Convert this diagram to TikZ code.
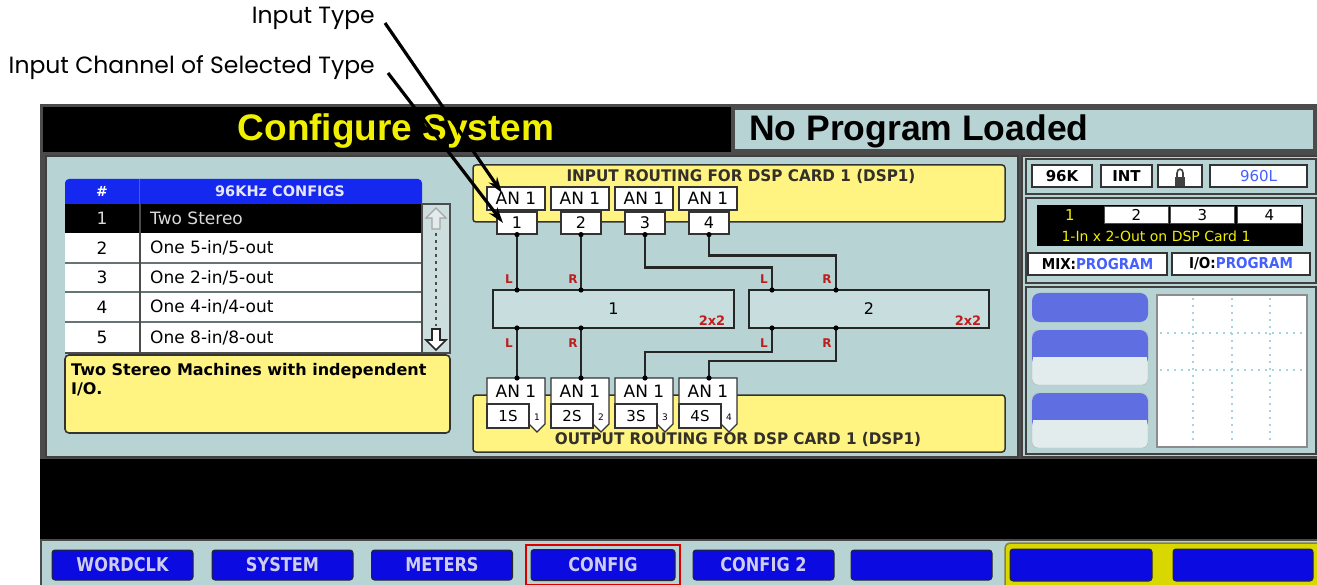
\documentclass[tikz,border=0pt]{standalone}
\usepackage{fontspec}
\usepackage{graphicx}
\setmainfont{DejaVu Sans}
\newfontfamily\helfont{Liberation Sans}
\newfontfamily\labfont{Poppins}
\usetikzlibrary{arrows.meta,calc}
\newcommand{\fsz}[1]{\fontsize{#1}{#1}\selectfont}
\newcommand{\cnd}[2][0.85]{\scalebox{#1}[1]{#2}}
\definecolor{scr}{RGB}{183,211,212}
\definecolor{ylw}{RGB}{255,244,130}
\definecolor{btnblue}{RGB}{10,10,225}
\definecolor{hdrblue}{RGB}{20,40,240}
\definecolor{pill}{RGB}{95,110,225}
\definecolor{redl}{RGB}{190,30,30}
\definecolor{frame}{RGB}{75,75,75}
\definecolor{ttlyel}{RGB}{240,240,0}
\definecolor{lblue}{RGB}{70,95,255}
\definecolor{dotc}{RGB}{165,212,222}
\definecolor{btntxt}{RGB}{205,205,235}
\definecolor{scrollc}{RGB}{205,222,222}
\definecolor{blkfill}{RGB}{200,222,222}
\definecolor{lite}{RGB}{226,236,236}
\begin{document}
\begin{tikzpicture}[x=1pt,y=-1pt,
  lab/.style={font=\labfont\fsz{23.5}, inner sep=0pt},
  callout/.style={line width=3.2pt, draw=black, -{Stealth[length=16pt,width=10pt]}},
  tagan/.style={draw=black!80, line width=1.2pt, fill=white, minimum width=58pt, minimum height=23pt, inner sep=0pt, font=\fsz{17}},
  tagnum/.style={draw=black!80, line width=1.2pt, fill=white, minimum width=40pt, minimum height=22pt, inner sep=0pt, font=\fsz{16}},
  wire/.style={line width=2.8pt, draw=black!85},
  lr/.style={text=redl, font=\bfseries\fsz{12}, inner sep=0pt},
  twox/.style={text=redl, font=\bfseries\fsz{13}, inner sep=0pt},
  blk/.style={draw=black!85, line width=1.5pt, fill=blkfill, minimum height=38pt, inner sep=0pt, font=\fsz{16}},
  btn/.style={draw=black!85, line width=1pt, fill=btnblue, rounded corners=3pt, minimum width=141pt, minimum height=30pt, inner sep=0pt, text=btntxt, font=\bfseries\fsz{19}},
  stbtn/.style={draw=black!80, line width=1.2pt, fill=white, minimum height=22pt, inner sep=0pt, font=\bfseries\fsz{15}},
  row/.style={font=\fsz{17}, inner sep=0pt},
  ttlrt/.style={font=\bfseries\fsz{16}, text=black!85!olive, inner sep=0pt},
  dsp/.style={draw=black!70, line width=0.8pt, fill=white, minimum width=64pt, minimum height=17pt, inner sep=0pt, font=\fsz{15}},
  dotline/.style={draw=dotc, line width=1.2pt, dash pattern=on 2pt off 5pt}
]
\useasboundingbox (0,0) rectangle (1317,585);
\fill[white] (0,0) rectangle (1317,585);

% ---- screen frame
\fill[frame] (40,104) rectangle (1317,585);
\fill[black] (43,107) rectangle (731,152);
\filldraw[fill=scr, draw=black!70, line width=1.5pt] (734,109) rectangle (1314,150);
\node[font=\helfont\bfseries\fsz{37}, text=ttlyel, inner sep=0pt] (ttl) at (396,131) {Configure System};
\node[font=\helfont\bfseries\fsz{35.5}, anchor=west, inner sep=0pt] (npl) at (749,131) {No Program Loaded};

% main panels
\filldraw[fill=scr, draw=black!75, line width=1.5pt] (46,156) rectangle (1018,457);
\filldraw[fill=scr, draw=black!75, line width=1.5pt] (1022,156) rectangle (1320,457);
\draw[black!75, line width=2pt] (1026,159) rectangle (1316,194);
\draw[black!75, line width=2pt] (1026,198) rectangle (1316,283);
\draw[black!75, line width=2pt] (1026,287) rectangle (1316,454);

% black band and bottom bar
\fill[black] (40,459) rectangle (1317,539);
\fill[scr] (42,541) rectangle (1317,585);

% ---- config table
\fill[hdrblue, rounded corners=4pt] (65,179) rectangle (422,206);
\fill[hdrblue] (65,196) rectangle (422,204);
\draw[black!60, line width=1.5pt] (139.5,179) -- (139.5,204);
\node[font=\bfseries\fsz{14}, text=white, inner sep=0pt] (hnum) at (102,191.5) {\#};
\node[font=\bfseries\fsz{14.5}, text=white!90!blue, inner sep=0pt] (hcfg) at (280,191.5) {96KHz CONFIGS};
\fill[black] (65,204) rectangle (422,233);
\fill[white] (65,233) rectangle (422,353);
\foreach \yy in {263,292,322} \draw[black!45!scr, line width=1.5pt] (65,\yy) -- (422,\yy);
\draw[black!70, line width=1.5pt] (140,204) -- (140,353);
\draw[black!70, line width=1.2pt] (65,353) -- (422,353);
\node[row, text=white!85!black] (n1) at (102,218) {1};
\node[row] (n2) at (102,248) {2};
\node[row] (n3) at (102,277.5) {3};
\node[row] (n4) at (102,307) {4};
\node[row] (n5) at (102,337.5) {5};
\node[row, text=white!85!black, anchor=west] (t1) at (150,218) {Two Stereo};
\node[row, anchor=west] (t2) at (150,248) {One 5-in/5-out};
\node[row, anchor=west] (t3) at (150,277.5) {One 2-in/5-out};
\node[row, anchor=west] (t4) at (150,307) {One 4-in/4-out};
\node[row, anchor=west] (t5) at (150,337.5) {One 8-in/8-out};
% scrollbar
\filldraw[fill=scrollc, draw=black!70, line width=1.2pt] (422,204) rectangle (450,353);
\filldraw[fill=lite, draw=black!35, line width=1.2pt] (436,208) -- (446,218) -- (440,218) -- (440,229) -- (432,229) -- (432,218) -- (426,218) -- cycle;
\draw[black!70, line width=2pt, dash pattern=on 3pt off 4pt] (436,233) -- (436,326);
\filldraw[fill=white, draw=black!85, line width=1.6pt] (436,350) -- (446,340) -- (440,340) -- (440,329) -- (432,329) -- (432,340) -- (426,340) -- cycle;
% description
\filldraw[fill=ylw, draw=black!80, line width=1.6pt, rounded corners=4pt] (65,355) rectangle (450,433);
\node[font=\bfseries\fsz{16}, anchor=north west, align=left, inner sep=0pt] (desc) at (71,363) {Two Stereo Machines with independent\\[3pt]I/O.};

% ---- input routing
\filldraw[fill=ylw, draw=black!80, line width=1.5pt, rounded corners=3pt] (473,165) rectangle (1005,222);
\node[ttlrt] (inttl) at (741,176) {\cnd[0.95]{INPUT ROUTING FOR DSP CARD 1 (DSP1)}};
\foreach \i in {1,2,3,4} {
  \node[tagan] (ia\i) at ({452+64*\i},198.5) {AN 1};
  \node[tagnum] (in\i) at ({453+64*\i},223) {\i};
}
% ---- output routing box
\filldraw[fill=ylw, draw=black!80, line width=1.5pt, rounded corners=3pt] (473,395) rectangle (1005,452);
\node[ttlrt] (outttl) at (738,439) {\cnd[0.95]{OUTPUT ROUTING FOR DSP CARD 1 (DSP1)}};

% blocks
\node[blk, minimum width=241pt] (blk1) at (613.5,309) {1};
\node[blk, minimum width=240pt] (blk2) at (869,309) {2};
\node[twox] (x1) at (712,321) {2x2};
\node[twox] (x2) at (968,321) {2x2};

% block connection points
\coordinate (b1L) at (517,290); \coordinate (b1R) at (581,290);
\coordinate (b2L) at (772,290); \coordinate (b2R) at (836,290);
\coordinate (c1L) at (517,328); \coordinate (c1R) at (581,328);
\coordinate (c2L) at (772,328); \coordinate (c2R) at (836,328);

% output tags
\foreach \i in {1,2,3,4} {
  \pgfmathsetmacro{\xo}{423+64*\i}
  \filldraw[fill=white, draw=black!80, line width=1.2pt]
    (\xo,378) -- ({\xo+58},378) -- ({\xo+58},424) -- ({\xo+50},432) -- ({\xo+42},424) -- ({\xo+42},404) -- (\xo,404) -- cycle;
  \filldraw[fill=white, draw=black!80, line width=1.2pt] (\xo,404) rectangle ({\xo+42},428);
  \node[font=\fsz{17}, inner sep=0pt] (oa\i) at ({\xo+29},391) {AN 1};
  \node[font=\fsz{15}, inner sep=0pt] (os\i) at ({\xo+21},416.5) {\i S};
  \node[font=\fsz{9}, inner sep=0pt] (ok\i) at ({\xo+50},417) {\i};
  \coordinate (o\i) at ({\xo+30},378);
}

% wires
\draw[wire] (in1.south) -- (b1L);
\draw[wire] (in2.south) -- (b1R);
\draw[wire] (in3.south) -- ++(0,33) -| (b2L);
\draw[wire] (in4.south) -- ++(0,21) -| (b2R);
\draw[wire] (c1L) -- (o1);
\draw[wire] (c1R) -- (o2);
\draw[wire] (c2L) -- ++(0,24) -| (o3);
\draw[wire] (c2R) -- ++(0,33) -| (o4);
\foreach \p in {b1L,b1R,b2L,b2R,c1L,c1R,c2L,c2R,o1,o2,o3,o4} \fill[black] (\p) circle (2.6);
\foreach \i in {1,2,3,4} \fill[black] (in\i.south) circle (2.6);

\node[lr] (l1) at (509,279) {L};
\node[lr] (r1) at (573,279) {R};
\node[lr] (l2) at (764,279) {L};
\node[lr] (r2) at (827,279) {R};
\node[lr] (l3) at (509,343) {L};
\node[lr] (r3) at (573,343) {R};
\node[lr] (l4) at (764,343) {L};
\node[lr] (r4) at (827,343) {R};

% ---- right panel: status
\node[stbtn, minimum width=60pt] (s96) at (1062,176) {96K};
\node[stbtn, minimum width=51pt] (sint) at (1126.5,176) {INT};
\node[stbtn, minimum width=44pt] (slock) at (1180,176) {};
\fill[black!75] (1175,177) rectangle (1185,186);
\draw[black!75, line width=1.6pt] (1177,177) -- (1177,173) .. controls (1177,168) and (1183,168) .. (1183,173) -- (1183,177);
\node[stbtn, minimum width=97pt, font=\fsz{15}, text=lblue] (s960) at (1258.5,176) {960L};

% DSP selector
\fill[black] (1037,205) rectangle (1303,246);
\node[dsp, fill=black, draw=black, text=ttlyel] (d1) at (1070,215) {1};
\node[dsp] (d2) at (1136.5,215) {2};
\node[dsp] (d3) at (1202.5,215) {3};
\node[dsp] (d4) at (1269.5,215) {4};
\node[font=\fsz{14}, text=ttlyel, inner sep=0pt] (dtxt) at (1156,236) {1-In x 2-Out on DSP Card 1};
\node[stbtn, minimum width=139pt] (mix) at (1097.5,264) {\cnd[0.9]{MIX:\textcolor{lblue}{PROGRAM}}};
\node[stbtn, minimum width=138pt] (io) at (1241,264) {\cnd[0.9]{I/O:\textcolor{lblue}{PROGRAM}}};

% meters
\fill[pill, rounded corners=8pt] (1032,293) rectangle (1148,322);
\filldraw[fill=lite, draw=black!30, rounded corners=6pt] (1032,330) rectangle (1148,385);
\fill[pill, rounded corners=8pt] (1032,330) rectangle (1148,366);
\fill[lite] (1033,357) rectangle (1147,377);
\filldraw[fill=lite, draw=black!30, rounded corners=6pt] (1032,393) rectangle (1148,448);
\fill[pill, rounded corners=8pt] (1032,393) rectangle (1148,429);
\fill[lite] (1033,420) rectangle (1147,440);
\filldraw[fill=white, draw=black!45, line width=1.2pt] (1157,295) rectangle (1307,447);
\foreach \xx in {1193,1232,1270} \draw[dotline] (\xx,298) -- (\xx,445);
\foreach \yy in {333,370} \draw[dotline] (1160,\yy) -- (1305,\yy);

% ---- bottom buttons
\node[btn] (bword) at (122.5,565) {\cnd{WORDCLK}};
\node[btn] (bsys) at (282.5,565) {\cnd{SYSTEM}};
\node[btn] (bmet) at (442,565) {\cnd{METERS}};
\draw[red!85!black, line width=2.5pt] (526,545) rectangle (680,585);
\node[btn, minimum width=144pt, minimum height=31pt] (bcfg) at (603,565) {\cnd{CONFIG}};
\node[btn] (bcfg2) at (763.5,565) {\cnd{CONFIG 2}};
\node[btn] (bblank) at (921.5,565) {};
\filldraw[fill=ttlyel!90!black, draw=black!55!yellow, line width=1.5pt, rounded corners=5pt] (1005,543) rectangle (1322,592);
\node[btn, minimum width=142pt, minimum height=32pt] (bg1) at (1081,565) {};
\node[btn, minimum width=140pt, minimum height=32pt] (bg2) at (1243,565) {};

% ---- callouts
\node[lab, anchor=east] (labA) at (375,18) {Input Type};
\node[lab, anchor=east] (labB) at (375,68) {Input Channel of Selected Type};
\coordinate (a1s) at (385,23);
\coordinate (a1e) at (502,193);
\coordinate (a2s) at (388,73);
\coordinate (a2e) at (503,223);
\draw[callout] (a1s) -- (a1e);
\draw[callout] (a2s) -- (a2e);
\end{tikzpicture}
\end{document}
